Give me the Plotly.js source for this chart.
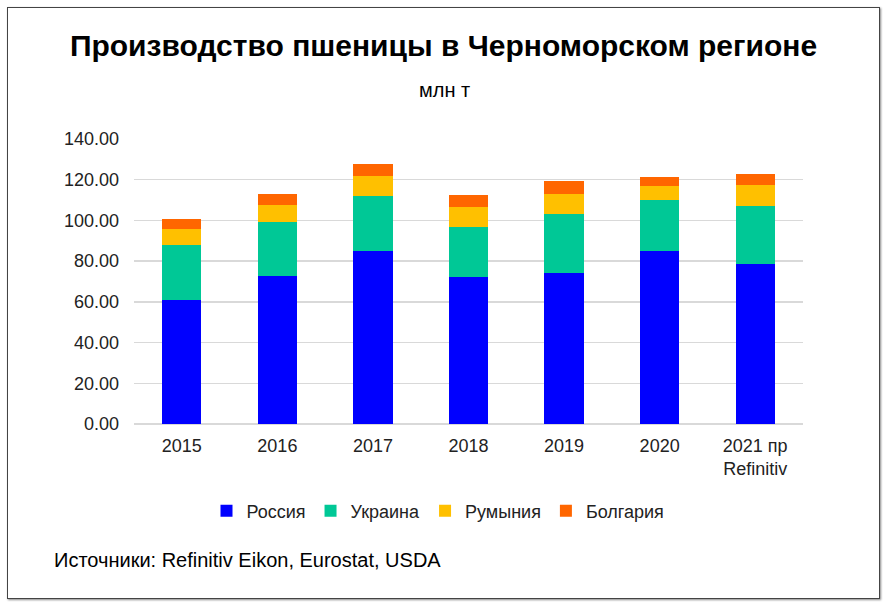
<!DOCTYPE html>
<html><head><meta charset="utf-8">
<script src="https://cdn.plot.ly/plotly-3.0.1.min.js"></script>
<style>
html,body{margin:0;padding:0;background:#fff;}
#frame{position:absolute;left:7px;top:7px;width:871px;height:590px;border:1.5px solid #444;box-shadow:1px 1px 2px #888;pointer-events:none;}
#chart{position:absolute;left:0;top:0;width:887px;height:607px;}
</style></head>
<body>
<div id="chart"></div>
<div id="frame"></div>
<script>
const categories = ["2015","2016","2017","2018","2019","2020","2021 пр<br>Refinitiv"];
const russia   = [61.0, 72.5, 85.1, 72.0, 74.1, 85.1, 78.7];
const ukraine  = [27.1, 26.7, 26.7, 24.6, 28.9, 25.1, 28.5];
const romania  = [7.8, 8.5, 10.2, 10.0, 10.1, 6.5, 10.0];
const bulgaria = [4.9, 5.5, 5.7, 5.7, 6.3, 4.6, 5.7];
const seriesNames = ["Россия","Украина","Румыния","Болгария"];
const colors = ["#0000FF","#00C896","#FFC000","#FF6600"];
const values = [russia, ukraine, romania, bulgaria];

const traces = values.map((v,i)=>({
  type:'bar', x:categories, y:v, name:seriesNames[i],
  marker:{color:colors[i]}, hoverinfo:'y+name'
}));

const font = {family:'"Liberation Sans", Arial, sans-serif', color:'#222'};
const layout = {
  width:887, height:607,
  barmode:'stack', bargap:0.59,
  margin:{l:134, r:84, t:139, b:183},
  paper_bgcolor:'#fff', plot_bgcolor:'#fff',
  font:Object.assign({size:18}, font),
  title:{text:'<b>Производство пшеницы в Черноморском регионе</b>',
    font:Object.assign({}, font, {size:30, color:'#000'}),
    x:0.5, xanchor:'center', xref:'container', y:1-45/607, yanchor:'middle', yref:'container'},
  xaxis:{type:'category', tickfont:{size:18}, showline:false, ticks:'', fixedrange:true, ticklabelstandoff:9},
  yaxis:{range:[0,140], dtick:20, tickformat:'.2f', gridcolor:'#D9D9D9', gridwidth:1.3,
    zeroline:true, zerolinecolor:'#D9D9D9', zerolinewidth:1.3, tickfont:{size:18}, ticks:'', ticklabelstandoff:14},
  legend:{orientation:'h', x:(438-134)/669, xanchor:'center', y:(424-511)/285, yanchor:'middle',
    font:{size:18}, traceorder:'normal', itemwidth:30},
  annotations:[
    {text:'млн т', xref:'paper', yref:'paper', x:(444-134)/669, y:(424-90)/285, xanchor:'center', yanchor:'middle',
      showarrow:false, font:{size:20, color:'#000'}},
    {text:'Источники: Refinitiv Eikon, Eurostat, USDA', xref:'paper', yref:'paper', x:(52-134)/669, y:(424-560)/285,
      xanchor:'left', yanchor:'middle', showarrow:false, font:{size:20, color:'#000'}}
  ]
};
Plotly.newPlot('chart', traces, layout, {displayModeBar:false, staticPlot:true});
</script>
</body></html>
